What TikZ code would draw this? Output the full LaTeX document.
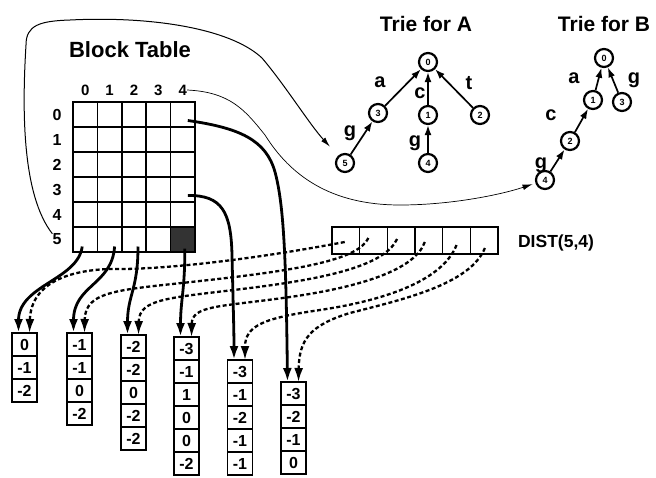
\documentclass[tikz,border=0pt]{standalone}
\usepackage{fontspec}
\setmainfont{Liberation Sans}
\usetikzlibrary{arrows.meta}

\begin{document}
\begin{tikzpicture}[x=1pt,y=1pt,
        cell/.style={draw,line width=1.6pt,minimum width=24.4pt,minimum height=25pt,inner sep=0pt,outer sep=0pt},
        dcell/.style={draw,line width=1.3pt,minimum width=27.7pt,minimum height=27pt,inner sep=0pt,outer sep=0pt},
        vcell/.style={draw,line width=1.6pt,minimum width=25pt,minimum height=23pt,inner sep=0pt,outer sep=0pt,font=\bfseries\fontsize{16}{16}\selectfont},
        tnode/.style={circle,draw,line width=2.2pt,minimum size=18pt,inner sep=0pt,font=\bfseries\fontsize{9}{9}\selectfont},
        tedge/.style={line width=1.7pt,-{Latex[length=10pt,width=7pt]}},
        elab/.style={inner sep=0pt,font=\bfseries\fontsize{20}{20}\selectfont},
        title/.style={inner sep=0pt,font=\bfseries\fontsize{21}{21}\selectfont},
        lab/.style={inner sep=0pt,font=\bfseries\fontsize{16}{16}\selectfont},
        thickarr/.style={line width=2.8pt,-{Latex[length=14pt,width=9pt]}},
        dasharr/.style={line width=2.3pt,dash pattern=on 4pt off 2.5pt,-{Latex[length=14pt,width=9pt]}},
        thinarr/.style={line width=1pt,-{Latex[length=10pt,width=5.5pt]}}]
        \useasboundingbox (0,0) rectangle (656,-477);

        \node[title,font=\bfseries\fontsize{22}{22}\selectfont] (bt) at (130,-50) {Block Table};
        \foreach \ri in {0,...,5}
            \foreach \ci in {0,...,4}
                \node[cell] (b\ri\ci) at (85.2+24.4*\ci,-114.5-25*\ri) {};
        \fill[black!80] (b54.south west) rectangle (b54.north east);
        \draw[line width=1.6pt] (b54.south west) rectangle (b54.north east);
        \foreach \ci in {0,...,4}
            \node[lab,font=\bfseries\fontsize{15}{15}\selectfont] (cl\ci) at ([yshift=12pt]b0\ci.north) {\ci};
        \foreach \ri in {0,...,5}
            \node[lab] (rl\ri) at ([xshift=-16pt]b\ri0.west) {\ri};

        \foreach \i in {1,...,6}
            \node[dcell] (d\i) at (318+27.7*\i,-240.5) {};
        \node[lab,font=\bfseries\fontsize{17.5}{17.5}\selectfont] (dist) at (556,-243) {DIST(5,4)};

        \node[title] (ta) at (426,-24) {Trie for A};
        \node[tnode] (A0) at (428,-62) {0};
        \node[tnode] (A3) at (378,-113) {3};
        \node[tnode] (A1) at (428,-115) {1};
        \node[tnode] (A2) at (480,-115) {2};
        \node[tnode] (A5) at (345,-163) {5};
        \node[tnode] (A4) at (428,-163) {4};
        \draw[tedge] (A3) -- (A0);
        \draw[tedge] (A1) -- (A0);
        \draw[tedge] (A2) -- (A0);
        \draw[tedge] (A5) -- (A3);
        \draw[tedge] (A4) -- (A1);
        \node[elab] (ea) at (380,-82) {a};
        \node[elab] (ec) at (420,-93) {c};
        \node[elab] (et) at (469,-83) {t};
        \node[elab] (eg) at (350,-133) {g};
        \node[elab] (eh) at (415,-143) {g};

        \node[title] (tb) at (604,-24) {Trie for B};
        \node[tnode] (B0) at (604,-58) {0};
        \node[tnode] (B1) at (593,-100) {1};
        \node[tnode] (B3) at (622,-102) {3};
        \node[tnode] (B2) at (570,-141) {2};
        \node[tnode] (B4) at (545,-180) {4};
        \draw[tedge] (B1) -- (B0);
        \draw[tedge] (B3) -- (B0);
        \draw[tedge] (B2) -- (B1);
        \draw[tedge] (B4) -- (B2);
        \node[elab] (fa) at (574,-78) {a};
        \node[elab] (fg) at (634,-80) {g};
        \node[elab] (fc) at (551,-115) {c};
        \node[elab] (fh) at (541,-165) {g};

        \foreach \i/\x/\y/\vals in {1/24.5/333/{0,-1,-2}, 2/79.5/333/{-1,-1,0,-2}, 3/133.5/335/{-2,-2,0,-2,-2},
                4/186.5/337/{-3,-1,1,0,0,-2}, 5/240/360/{-3,-1,-2,-1,-1}, 6/293.5/382/{-3,-2,-1,0}}
            \foreach \v [count=\j] in \vals
                \node[vcell] (k\i-\j) at (\x,-\y-11.5-23*\j+23) {\v};
        \foreach \i in {1,...,6} {
            \coordinate (ks\i) at ([xshift=-6pt]k\i-1.north);
            \coordinate (kd\i) at ([xshift=5pt]k\i-1.north);
        }

        \draw[thickarr] ([shift={(-3pt,-7pt)}]b50.center) .. controls (78,-280) and (18.5,-285) .. (ks1);
        \draw[thickarr] ([shift={(5pt,-7pt)}]b51.center) .. controls (112,-285) and (73.5,-285) .. (ks2);
        \draw[thickarr] ([shift={(4pt,-7pt)}]b52.center) .. controls (138,-290) and (127.5,-295) .. (ks3);
        \draw[thickarr] ([shift={(2pt,-9pt)}]b54.center) .. controls (185,-290) and (180.5,-300) .. (ks4);
        \draw[thickarr] ([shift={(5pt,-6pt)}]b34.center) .. controls (222,-195) and (231,-212) .. (232,-255)
            .. controls (233,-300) and (234,-330) .. (ks5);
        \draw[thickarr] ([shift={(5pt,-6pt)}]b04.center) .. controls (240,-128) and (266,-140) .. (275,-172)
            .. controls (284,-205) and (286,-260) .. (ks6);

        \draw[dasharr] ([shift={(-1pt,-1.5pt)}]d1.center) .. controls (250,-260) and (160,-270) .. (110,-269)
            .. controls (75,-270) and (31,-280) .. (kd1);
        \draw[dasharr] ([shift={(-5pt,2.5pt)}]d2.center) .. controls (358,-260) and (300,-270) .. (200,-281)
            .. controls (120,-290) and (85,-290) .. (kd2);
        \draw[dasharr] ([shift={(-4pt,1.5pt)}]d3.center) .. controls (385,-265) and (330,-278) .. (250,-288)
            .. controls (170,-298) and (139,-298) .. (kd3);
        \draw[dasharr] ([shift={(-4pt,-1.5pt)}]d4.center) .. controls (415,-270) and (360,-287) .. (290,-297)
            .. controls (220,-307) and (192,-305) .. (kd4);
        \draw[dasharr] ([shift={(0pt,-4.5pt)}]d5.center) .. controls (445,-275) and (400,-298) .. (320,-310)
            .. controls (265,-318) and (245,-325) .. (kd5);
        \draw[dasharr] ([shift={(0.7pt,-7.5pt)}]d6.center) .. controls (470,-285) and (400,-300) .. (350,-313)
            .. controls (310,-325) and (299,-340) .. (kd6);

        \draw[thinarr,shorten >=12pt] (rl5.north west) .. controls (22,-195) and (22,-110) .. (26,-45)
            .. controls (26,-25) and (40,-21) .. (70,-20) .. controls (150,-16) and (230,-28) .. (262,-58)
            .. controls (285,-85) and (310,-125) .. (A5);
        \draw[thinarr,line width=0.7pt,shorten >=3pt] (cl4.east) .. controls (230,-92) and (245,-110) .. (265,-135)
            .. controls (290,-175) and (330,-205) .. (400,-205) .. controls (450,-205) and (500,-195) .. (B4);
    \end{tikzpicture}
\end{document}
